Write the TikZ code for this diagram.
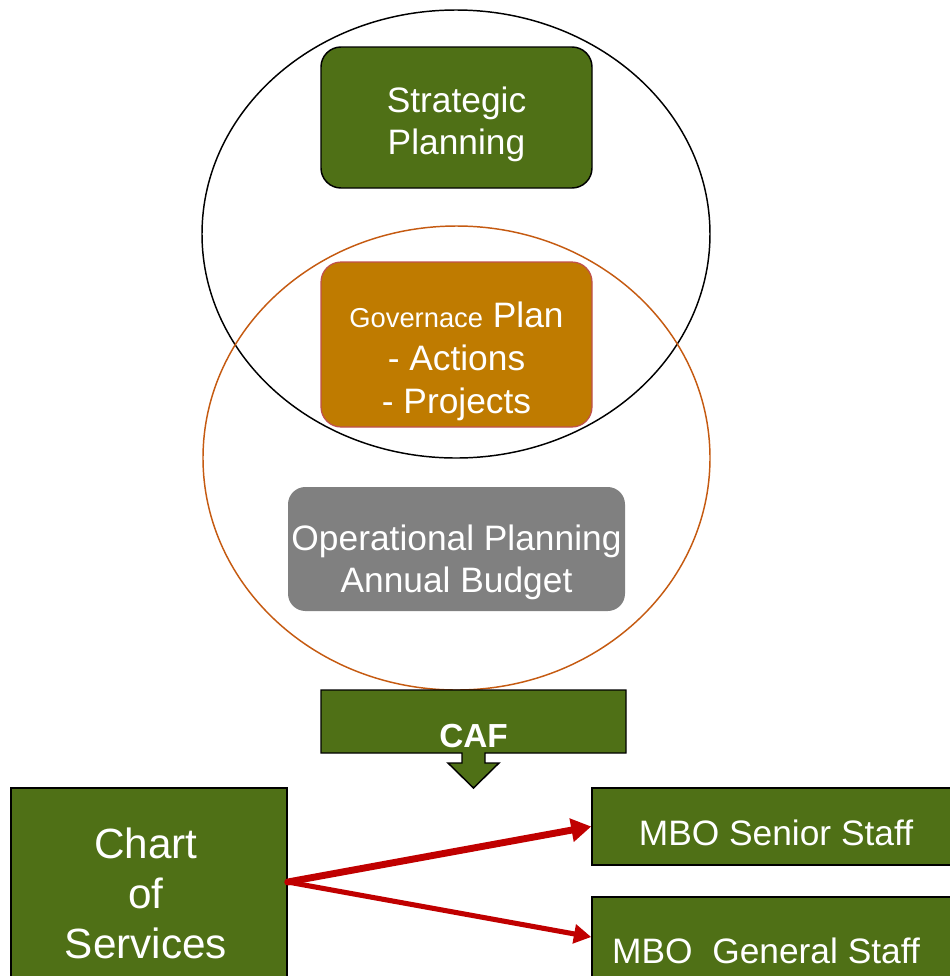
\documentclass[tikz,border=0pt]{standalone}
\usepackage{fontspec}
\setmainfont{Liberation Sans}
\usetikzlibrary{arrows.meta}
\definecolor{olive}{RGB}{79,112,22}
\definecolor{amber}{RGB}{191,123,0}
\definecolor{rust}{RGB}{197,90,17}
\definecolor{rosebd}{RGB}{192,80,77}
\definecolor{redarr}{RGB}{192,0,0}
\tikzset{
  big/.style={font=\fontsize{26.5}{31.5}\selectfont, text=white, align=center, inner sep=0pt},
  greenbox/.style={big, fill=olive, draw=black, line width=1.1pt},
  roundgreen/.style={greenbox, rounded corners=15pt},
  redarrow/.style={draw=redarr, line cap=round},
}
\begin{document}
\begin{tikzpicture}[x=0.75pt,y=-0.75pt]
\useasboundingbox (0,0) rectangle (950,976);
% ellipses
\draw[black, line width=1.1pt] (456,234) ellipse [x radius=254, y radius=224];
\draw[rust, line width=1.1pt] (456.5,458) ellipse [x radius=253.5, y radius=232];
% top boxes
\node[roundgreen, minimum width=203.25pt, minimum height=105.75pt] (strat) at (456.5,117.5) {};
\node[big] (strattxt) at (456.5,124.5) {Strategic\\Planning};
\node[big, fill=amber, draw=rosebd, line width=0.9pt, rounded corners=15pt, minimum width=203.25pt, minimum height=123.75pt] (gov) at (456.5,344.5) {};
\node[big, font=\fontsize{26.5}{32.3}\selectfont] (govtxt) at (456.5,361)
  {{\fontsize{20.5}{32.3}\selectfont Governace} Plan\\- Actions\\- Projects};
\node[big, fill=black!50, rounded corners=13pt, minimum width=252.75pt, minimum height=93pt] (oper) at (456.5,549) {};
\node[big] (opertxt) at (456.5,562) {Operational Planning\\Annual Budget};
% CAF callout
\draw[fill=olive, draw=black, line width=1.1pt, line join=miter]
  (321,690) -- (626,690) -- (626,753) -- (485,753) -- (485,763) -- (499,763)
  -- (473.5,788) -- (448,763) -- (462,763) -- (462,753) -- (321,753) -- cycle;
\node[font=\fontsize{25}{30}\selectfont\bfseries, text=white, inner sep=0pt] (caf) at (473.5,736) {CAF};
% bottom boxes
\node[greenbox, minimum width=207pt, minimum height=157.5pt] (chart) at (149,893) {};
\node[big, font=\fontsize{31.7}{37.5}\selectfont] (charttxt) at (146,893) {Chart\\of\\Services};
\node[greenbox, minimum width=276pt, minimum height=57.75pt] (sen) at (776,826.5) {};
\node[big] (sentxt) at (776,833) {MBO Senior Staff};
\node[greenbox, minimum width=276pt, minimum height=77.25pt] (gen) at (776,948.5) {};
\node[big] (gentxt) at (766,951) {MBO\ \ General Staff};
% arrows
\coordinate (src) at (chart.east |- 0,882);
\coordinate (t1) at (sen.west);
\coordinate (t2) at (gen.west |- 0,937);
\draw[redarrow, line width=5.2pt, -{Triangle[length=15pt,width=17pt]}] (src) -- (t1);
\draw[redarrow, line width=3.8pt, -{Triangle[length=13pt,width=14pt]}] (src) -- (t2);
\end{tikzpicture}
\end{document}
